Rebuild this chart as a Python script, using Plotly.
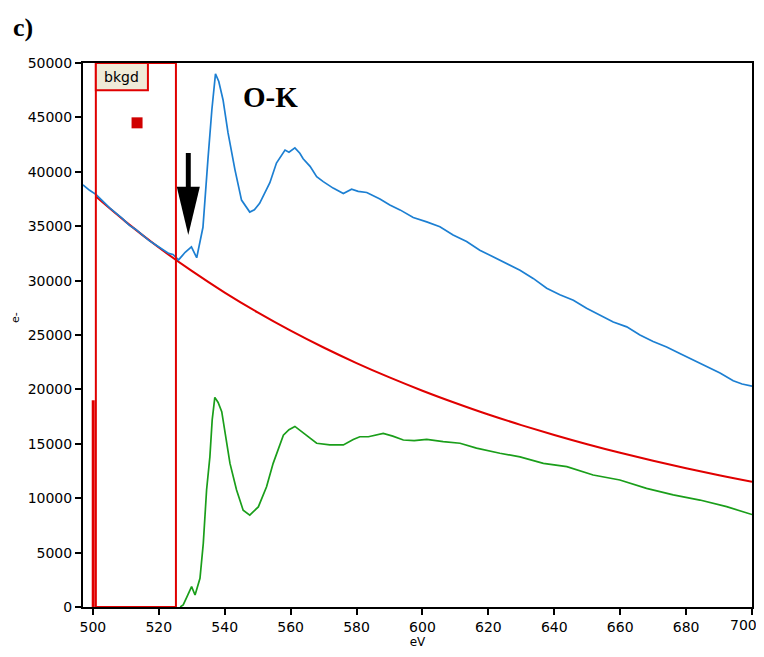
import plotly.graph_objects as go

# ---- data ----
blue_ev = [497, 499, 501, 503, 505, 507, 509, 511, 513, 515, 517, 519, 521, 523, 524.3, 526, 528, 529.9,
           531.5, 533.4, 534.9, 536.1, 537.2, 538.2, 539.5, 541, 543.1, 545.1, 547.6, 549, 550.6, 553.7,
           555.7, 558.3, 559.5, 561.3, 562.8, 563.8, 565.9, 567.9, 569.9, 572.9, 576, 578.5, 580.5, 583.1,
           587.1, 590.1, 593.2, 597.2, 601.3, 605.3, 609.3, 613.4, 617.4, 621.5, 625.6, 629.6, 633.6,
           637.7, 641.7, 645.8, 649.8, 653.9, 657.9, 662, 666, 670, 674.1, 678.1, 682.2, 686.3, 690.3,
           694.3, 697, 700]
blue_counts = [38800, 38300, 37900, 37300, 36700, 36200, 35700, 35100, 34700, 34200, 33700, 33300, 32900,
               32500, 32400, 31900, 32600, 33100, 32100, 34900, 41100, 45700, 49000, 48300, 46600, 43600,
               40200, 37400, 36300, 36500, 37100, 39000, 40800, 42000, 41800, 42200, 41700, 41200, 40500,
               39550, 39100, 38500, 38000, 38400, 38200, 38100, 37500, 36950, 36500, 35800, 35400, 34950,
               34200, 33600, 32800, 32200, 31600, 30950, 30200, 29300, 28700, 28200, 27450, 26850, 26200,
               25750, 25000, 24400, 23900, 23300, 22700, 22100, 21500, 20800, 20500, 20300]

bkgd_ev = [501, 510, 520, 530, 540, 550, 560, 570, 580, 590, 600, 610, 620, 630, 640, 650, 660, 670,
           680, 690, 700]
bkgd_counts = [37700, 35400, 33040, 30890, 28900, 27080, 25400, 23850, 22420, 21100, 19880, 18750, 17690,
               16720, 15810, 14960, 14170, 13440, 12750, 12100, 11500]

green_ev = [526.5, 527.4, 528.5, 529.95, 531, 532.5, 533.5, 534.5, 535.5, 536.2, 537, 538, 539.1, 540.1,
            541.6, 543.6, 545.6, 547.6, 550.2, 552.7, 554.7, 557.8, 559.5, 561.3, 563, 564.9, 567.9,
            571.9, 576, 579, 581, 583.6, 588.1, 591, 594.2, 597.5, 601.3, 606.3, 611.4, 616.4, 623.5,
            629.6, 636.7, 643.8, 651.8, 659.9, 668, 676.1, 684.2, 692.3, 700]
green_counts = [0, 200, 900, 1870, 1100, 2640, 5850, 10750, 13800, 17200, 19270, 18800, 17950, 15960,
                13200, 10750, 8900, 8450, 9200, 11050, 13200, 15800, 16300, 16600, 16200, 15800, 15050,
                14900, 14900, 15400, 15650, 15650, 15950, 15700, 15350, 15300, 15400, 15200, 15050, 14600,
                14130, 13800, 13200, 12900, 12130, 11670, 10900, 10300, 9830, 9220, 8500]

spike_ev = [500.1, 500.1]
spike_counts = [0, 19000]

window_ev = [500.9, 525.2]        # background fitting window
marker_ev = [513.4]
marker_counts = [44500]
arrow_ev = 528.95

x_ticks = [500, 520, 540, 560, 580, 600, 620, 640, 660, 680, 700]
x_tick_labels = [str(v) for v in x_ticks]
y_ticks = [0, 5000, 10000, 15000, 20000, 25000, 30000, 35000, 40000, 45000, 50000]
y_tick_labels = ["0", "5000", "10000", "15000", "20000", "25000", "30000", "35000", "40000",
                 "45000", "50000"]

BLUE = "#1c7fd2"
RED = "#e00000"
GREEN = "#1a9e1a"

# page has an 8px body margin: figure is drawn 8px right/down of the window origin
OFF = 8
W, H = 764 - OFF, 657 - 2 * OFF
L, R, T, B = 83 - OFF, 12, 63 - OFF, 50 - OFF
pw, ph = W - L - R, H - T - B

fig = go.Figure()
fig.add_trace(go.Scatter(x=bkgd_ev, y=bkgd_counts, mode="lines", line=dict(color=RED, width=2, shape="spline"),
                         hoverinfo="skip"))
fig.add_trace(go.Scatter(x=blue_ev, y=blue_counts, mode="lines", line=dict(color=BLUE, width=1.7)))
fig.add_trace(go.Scatter(x=green_ev, y=green_counts, mode="lines", line=dict(color=GREEN, width=1.7)))
fig.add_trace(go.Scatter(x=spike_ev, y=spike_counts, mode="lines", line=dict(color=RED, width=3)))
fig.add_trace(go.Scatter(x=marker_ev, y=marker_counts, mode="markers",
                         marker=dict(symbol="square", size=11, color="#d00000")))

# background window box
fig.add_shape(type="rect", x0=window_ev[0], x1=window_ev[1], y0=0, y1=50000,
              line=dict(color=RED, width=2), fillcolor="rgba(0,0,0,0)")
# bkgd label box
fig.add_shape(type="rect", x0=window_ev[0], x1=516.7, y0=47500, y1=50000,
              line=dict(color=RED, width=2), fillcolor="#efebd8")
fig.add_annotation(x=(window_ev[0] + 516.7) / 2, y=48750, text="bkgd", showarrow=False,
                   xanchor="center", yanchor="middle",
                   font=dict(family="DejaVu Sans", size=14, color="black"))

# arrow (shaft + head)
fig.add_shape(type="rect", x0=arrow_ev - 0.75, x1=arrow_ev + 0.75, y0=38400, y1=41730,
              line=dict(width=0), fillcolor="black")
fig.add_shape(type="path",
              path=f"M {arrow_ev - 3.5} 38630 L {arrow_ev + 3.5} 38630 L {arrow_ev} 34190 Z",
              line=dict(width=0), fillcolor="black")

# last x tick label (placed so it stays inside the visible window)
fig.add_annotation(x=743, y=625, text=x_tick_labels[-1], showarrow=False,
                   font=dict(family="DejaVu Sans", size=14, color="black"))
fig.add_annotation(x=270, y=97, text="<b>O-K</b>", showarrow=False,
                   font=dict(family="Liberation Serif", size=29, color="black"))
fig.add_annotation(x=23, y=28, text="<b>c)</b>", showarrow=False,
                   font=dict(family="Liberation Serif", size=26, color="black"))
fig.add_annotation(x=15, y=318, text="e-", textangle=-90, showarrow=False,
                   font=dict(family="DejaVu Sans", size=11, color="black"))

# convert window-pixel-placed annotations to paper coordinates
for a in fig.layout.annotations[1:]:
    px, py = a.x - OFF, a.y - OFF
    a.xref = "paper"; a.yref = "paper"
    a.xanchor = "center"; a.yanchor = "middle"
    a.x = (px - L) / pw
    a.y = 1 - (py - T) / ph

fig.update_layout(
    width=W, height=H, margin=dict(l=L, r=R, t=T, b=B, autoexpand=False),
    paper_bgcolor="white", plot_bgcolor="white", showlegend=False,
    font=dict(family="DejaVu Sans", size=14, color="black"),
)
fig.update_xaxes(range=[497, 700], tickvals=x_ticks, ticktext=x_tick_labels[:-1] + [""], ticks="outside",
                 ticklen=6, tickwidth=1.5, tickcolor="black", showline=True, linecolor="black", linewidth=2,
                 mirror=True, showgrid=False, zeroline=False, automargin=False, ticklabeloverflow="allow",
                 title=dict(text="eV", font=dict(size=12), standoff=8), tickfont=dict(size=14))
fig.update_yaxes(range=[0, 50000], tickvals=y_ticks, ticktext=y_tick_labels, ticks="outside", ticklen=6,
                 tickwidth=1.5, tickcolor="black", showline=True, linecolor="black", linewidth=2, mirror=True,
                 showgrid=False, zeroline=False, automargin=False, ticklabeloverflow="allow",
                 tickfont=dict(size=14))

fig.write_html("out.html")
